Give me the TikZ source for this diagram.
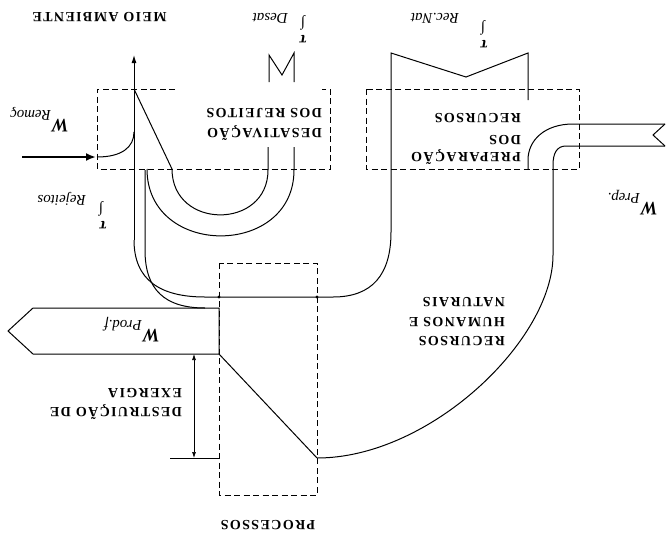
\documentclass[tikz,border=0pt]{standalone}
\usepackage{fontspec}
\setmainfont{Liberation Serif}
\usetikzlibrary{arrows.meta}
\newcommand{\wsub}[1]{{\fontsize{19}{19}\selectfont\bfseries\itshape W}\kern1pt\raisebox{-9pt}{\fontsize{15}{15}\selectfont\itshape #1}}
\begin{document}
\begin{tikzpicture}[x=1pt,y=-1pt,
  flow/.style={line width=1pt, black},
  dbox/.style={line width=0.9pt, dash pattern=on 6pt off 3.5pt},
  caps/.style={font=\fontsize{14}{14}\selectfont\bfseries\addfontfeature{LetterSpace=10}, rotate=180, inner sep=0pt, anchor=base west},
  lab/.style={rotate=180, inner sep=0pt, anchor=base west},
  sub/.style={font=\fontsize{15}{15}\selectfont\itshape, rotate=180, inner sep=0pt, anchor=base west},
  syma/.style={font=\fontsize{15}{15}\selectfont\bfseries\itshape, rotate=180, inner sep=0pt},
  symb/.style={font=\fontsize{16}{16}\selectfont\bfseries\itshape, rotate=180, inner sep=0pt},
  tip/.style={-{Latex[length=8pt,width=5pt]}}]
\fill[white] (0,0) rectangle (666,536);
\useasboundingbox (0,0) rectangle (666,536);

% key coordinates
\coordinate (top) at (134,55);
\coordinate (remS) at (22,157);
\coordinate (remE) at (96,157);
\coordinate (dimT) at (194,354);
\coordinate (dimB) at (194,458);

% dashed boxes
\draw[dbox] (175,89) -- (97,89) -- (97,169) -- (330,169) -- (330,89) -- (322,89);
\draw[dbox] (366,89) rectangle (579,169);
\draw[dbox] (219,263) rectangle (317,495);

% main channel with arrow to environment
\draw[flow, tip] (134,240) -- (top);
\draw[flow] (528,100) -- (528,53) -- (466,77) -- (391,53) -- (391,232)
  .. controls (391,275) and (372,297) .. (333,297) -- (205,297)
  .. controls (160,297) and (134,280) .. (134,240);
\draw[flow] (145,170) -- (145,250) .. controls (145,290) and (165,308) .. (205,308);
\draw[flow] (147,169) .. controls (147,258) and (294,258) .. (294,170) -- (294,147);
\draw[flow] (134,89) -- (172,169) .. controls (172,230) and (268,230) .. (268,170) -- (268,147);
\draw[flow] (269,82) -- (269,55) -- (282,75) -- (294,53) -- (294,82);

% removal work
\draw[line width=2.6pt, -{Latex[length=10pt,width=8pt]}] (remS) -- (remE);
\draw[flow] (97,157) .. controls (122,157) and (134,147) .. (134,132);

% preparation inflow
\draw[flow] (665,124) -- (573,124) .. controls (545,124) and (528,140) .. (528,160) -- (528,169);
\draw[flow] (665,146) -- (566,146) .. controls (557,146) and (553,153) .. (553,165) -- (553,255)
  .. controls (553,340) and (430,458) .. (317,458);
\draw[flow] (665,124) -- (653,135) -- (665,146);

% processes
\draw[flow] (219,354) -- (317,458);
\draw[flow] (170,458) -- (219,458);
\draw[line width=0.7pt, {Latex[length=6pt,width=4pt]}-{Latex[length=6pt,width=4pt]}] (dimT) -- (dimB);
\draw[flow] (219,308) -- (33,308) -- (8,331) -- (33,354) -- (219,354) -- cycle;
\fill (219,297) circle (1.6);
\fill (317,297) circle (1.6);

% texts
\node[caps, anchor=base] (meio) at (99.5,12) {MEIO AMBIENTE};
\node[caps] (des1) at (322,128) {DESATIVAÇÃO};
\node[caps] (des2) at (322,108) {DOS REJEITOS};
\node[caps] (pre1) at (521,152) {PREPARAÇÃO};
\node[caps] (pre2) at (521,135) {DOS};
\node[caps] (pre3) at (521,113) {RECURSOS};
\node[caps] (rh1) at (505,336) {RECURSOS};
\node[caps] (rh2) at (505,317) {HUMANOS E};
\node[caps] (rh3) at (505,297) {NATURAIS};
\node[caps] (de1) at (182,407) {DESTRUIÇÃO DE};
\node[caps] (de2) at (182,388) {EXERGIA};
\node[caps, anchor=base] (proc) at (268,520) {PROCESSOS};

% flow labels
\node[lab] (wrem) at (69,119) {\wsub{Remoç}};
\node[lab] (wprep) at (658,202) {\wsub{Prep.}};
\node[lab] (wprod) at (160,329) {\wsub{Prod.f}};
\node[sub] (sdes) at (288,13) {Desat};
\node[syma] (ides) at (303,23) {∫};
\node[symb] (tdes) at (303,39) {τ};
\node[sub] (srec) at (459,13) {Rec.Nat};
\node[syma] (irec) at (483,28) {∫};
\node[symb] (trec) at (484,44) {τ};
\node[sub] (srej) at (86,195) {Rejeitos};
\node[syma] (irej) at (101,209) {∫};
\node[symb] (trej) at (103,225) {τ};
\end{tikzpicture}
\end{document}
